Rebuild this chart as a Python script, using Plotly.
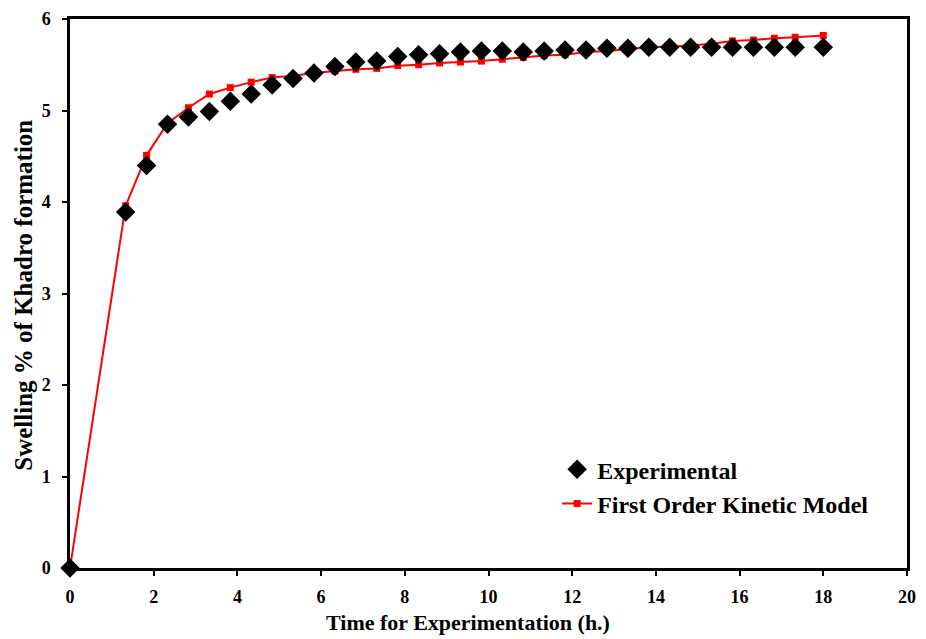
import plotly.graph_objects as go

# Time (h) for both series
time_h = [0, 1.33, 1.83, 2.33, 2.83, 3.33, 3.83, 4.33, 4.83, 5.33, 5.83, 6.33,
          6.83, 7.33, 7.83, 8.33, 8.83, 9.33, 9.83, 10.33, 10.83, 11.33, 11.83,
          12.33, 12.83, 13.33, 13.83, 14.33, 14.83, 15.33, 15.83, 16.33, 16.83,
          17.33, 18.0]

# Measured swelling (%)
experimental = [0, 3.89, 4.40, 4.85, 4.93, 4.99, 5.10, 5.18, 5.28, 5.35, 5.41,
                5.48, 5.53, 5.54, 5.59, 5.61, 5.62, 5.64, 5.65, 5.65, 5.64,
                5.65, 5.66, 5.66, 5.68, 5.68, 5.69, 5.69, 5.69, 5.69, 5.69,
                5.69, 5.69, 5.69, 5.69]

# First order kinetic model fit (%)
model = [0, 3.96, 4.51, 4.86, 5.03, 5.18, 5.25, 5.31, 5.36, 5.38, 5.41, 5.43,
         5.45, 5.46, 5.49, 5.50, 5.52, 5.53, 5.54, 5.56, 5.58, 5.60, 5.61,
         5.64, 5.65, 5.67, 5.69, 5.70, 5.71, 5.73, 5.76, 5.77, 5.79, 5.80,
         5.82]

FONT = "Liberation Serif"

fig = go.Figure()

fig.add_trace(go.Scatter(
    x=time_h, y=model, mode="lines+markers",
    name="<b>First Order Kinetic Model</b>",
    line=dict(color="#ff0000", width=2),
    marker=dict(symbol="square", size=7, color="#ff0000"),
    legendrank=2, cliponaxis=False,
))

fig.add_trace(go.Scatter(
    x=time_h, y=experimental, mode="markers",
    name="<b>Experimental</b>",
    marker=dict(symbol="diamond", size=15, color="#000000"),
    legendrank=1, cliponaxis=False,
))

fig.update_layout(
    width=926, height=639,
    margin=dict(l=70, r=19, t=19, b=71),
    paper_bgcolor="white", plot_bgcolor="white",
    font=dict(family=FONT, color="black"),
    showlegend=True,
    legend=dict(
        x=0.582, y=0.22, xanchor="left", yanchor="top",
        bgcolor="rgba(0,0,0,0)",
        font=dict(family=FONT, size=24, color="black"),
        itemsizing="trace",
    ),
    xaxis=dict(
        range=[0, 20], tickmode="linear", tick0=0, dtick=2,
        showgrid=False, zeroline=False, automargin=False,
        showline=True, linecolor="black", linewidth=2.5, mirror=True,
        ticks="outside", ticklen=5, tickwidth=1.5, tickcolor="black",
        ticklabelstandoff=6,
        tickfont=dict(family=FONT, size=18, color="black", weight="bold"),
    ),
    yaxis=dict(
        range=[0, 6], tickmode="linear", tick0=0, dtick=1,
        showgrid=False, zeroline=False, automargin=False,
        showline=True, linecolor="black", linewidth=2.5, mirror=True,
        ticks="outside", ticklen=5, tickwidth=1.5, tickcolor="black",
        ticklabelstandoff=8,
        tickfont=dict(family=FONT, size=18, color="black", weight="bold"),
    ),
    annotations=[
        dict(text="<b>Time for Experimentation (h.)</b>",
             xref="paper", yref="paper", x=0.4755, y=-0.1,
             xanchor="center", yanchor="middle", showarrow=False,
             font=dict(family=FONT, size=22, color="black")),
        dict(text="<b>Swelling % of Khadro formation</b>",
             xref="paper", yref="paper", x=-0.0555, y=0.497,
             xanchor="center", yanchor="middle", showarrow=False,
             textangle=-90,
             font=dict(family=FONT, size=25, color="black")),
    ],
)

fig.write_html("out.html")
